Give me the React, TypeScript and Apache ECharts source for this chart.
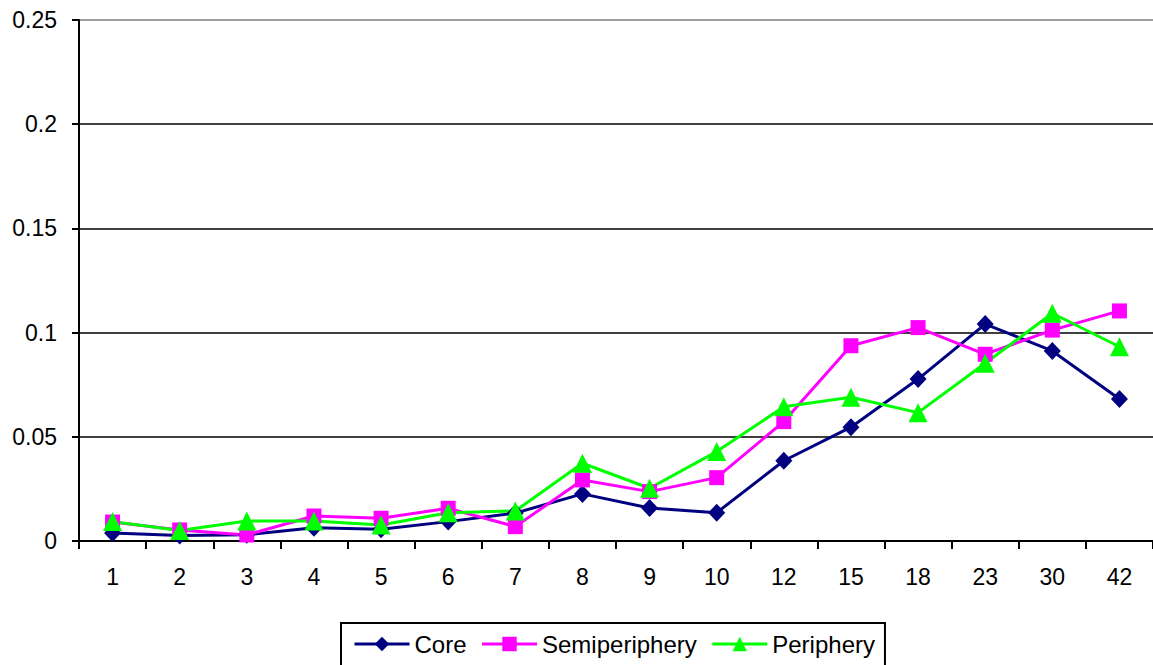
import React, { useEffect, useRef } from "react";
import * as echarts from "echarts";

const categories = ["1", "2", "3", "4", "5", "6", "7", "8", "9", "10", "12", "15", "18", "23", "30", "42"];
const core = [0.0038, 0.0026, 0.003, 0.0064, 0.0056, 0.0093, 0.0134, 0.0226, 0.0158, 0.0136, 0.0385, 0.0546, 0.0777, 0.1041, 0.0912, 0.0681];
const semiperiphery = [0.0091, 0.0053, 0.0029, 0.012, 0.0109, 0.0157, 0.0069, 0.0293, 0.0237, 0.0304, 0.0573, 0.0937, 0.1024, 0.0896, 0.1012, 0.1104];
const periphery = [0.0093, 0.005, 0.0096, 0.0096, 0.0077, 0.0136, 0.0144, 0.0373, 0.0253, 0.0429, 0.0644, 0.069, 0.0616, 0.0853, 0.1093, 0.0932];
const seriesNames = ["Core", "Semiperiphery", "Periphery"];

const FONT = "'Liberation Sans', Arial, sans-serif";

export default function App() {
  const ref = useRef<HTMLDivElement>(null);
  useEffect(() => {
    document.body.style.margin = "0";
    document.body.style.overflow = "hidden";
    const chart = echarts.init(ref.current!, null, { renderer: "svg" });
    const mk = (name: string, data: number[], color: string, symbol: string, size: any) => ({
      name,
      type: "line",
      data,
      symbol,
      symbolSize: size,
      showAllSymbol: true,
      lineStyle: { color, width: 3 },
      itemStyle: { color },
    });
    chart.setOption({
      animation: false,
      backgroundColor: "#ffffff",
      textStyle: { fontFamily: FONT },
      grid: { left: 79, top: 20, width: 1078, bottom: 124, containLabel: false },
      legend: {
        left: 341,
        top: 623,
        padding: [9, 10, 30, 12],
        itemGap: 14,
        itemWidth: 55,
        itemHeight: 18,
        borderColor: "#000",
        borderWidth: 2,
        borderRadius: 0,
        lineStyle: { width: 3 },
        textStyle: { fontSize: 24, color: "#000", fontFamily: FONT },
        data: seriesNames,
      },
      xAxis: {
        type: "category",
        data: categories,
        boundaryGap: true,
        axisLine: { lineStyle: { color: "#000", width: 2 } },
        axisTick: { show: true, length: 8, lineStyle: { color: "#000", width: 2 } },
        axisLabel: { color: "#000", fontSize: 23, margin: 24, fontFamily: FONT },
      },
      yAxis: {
        type: "value",
        min: 0,
        max: 0.25,
        interval: 0.05,
        axisLine: { show: true, lineStyle: { color: "#000", width: 2 } },
        axisTick: { show: true, length: 7, lineStyle: { color: "#000", width: 2 } },
        axisLabel: { color: "#000", fontSize: 23, margin: 22, fontFamily: FONT },
        splitLine: {
          show: true,
          lineStyle: { color: ["#000", "#000", "#000", "#000", "#000", "#808080"], width: 1.5 },
        },
      },
      series: [
        mk("Core", core, "#000080", "diamond", [17, 18]),
        mk("Semiperiphery", semiperiphery, "#FF00FF", "rect", 15),
        mk("Periphery", periphery, "#00FF00", "triangle", [19, 19]),
      ],
    });
    return () => chart.dispose();
  }, []);
  return <div ref={ref} style={{ width: 1153, height: 665 }} />;
}
